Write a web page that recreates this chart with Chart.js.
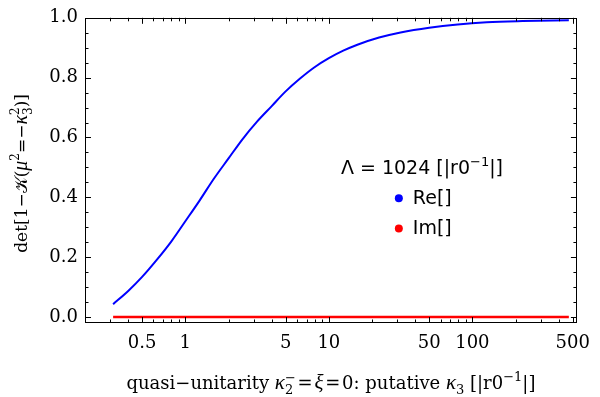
<!DOCTYPE html>
<html>
<head>
<meta charset="utf-8">
<script src="https://cdn.jsdelivr.net/npm/chart.js@4.4.0/dist/chart.umd.min.js"></script>
<style>
  html, body { margin: 0; padding: 0; background: #fff; }
  #wrap { width: 600px; height: 397px; }
</style>
</head>
<body>
<div id="wrap"><canvas id="myChart"></canvas></div>
<script>
// values
const kappa3 = [0.314, 0.4, 0.5, 0.63, 0.8, 1.0, 1.26, 1.58, 2.0, 2.5, 3.16, 4.0, 5.0, 6.3, 7.9, 10, 12.6, 15.8, 22.4, 31.6, 50, 79, 126, 224, 470];
const reValues = [0.043, 0.087, 0.134, 0.19, 0.253, 0.32, 0.39, 0.462, 0.53, 0.594, 0.653, 0.705, 0.754, 0.797, 0.834, 0.865, 0.89, 0.91, 0.934, 0.951, 0.967, 0.978, 0.985, 0.989, 0.992];
const imValues = [0, 0, 0, 0, 0, 0, 0, 0, 0, 0, 0, 0, 0, 0, 0, 0, 0, 0, 0, 0, 0, 0, 0, 0, 0];

const xTickLabels = [0.5, 1, 5, 10, 50, 100, 500];
const yTickLabels = [0, 0.2, 0.4, 0.6, 0.8, 1.0];
const seriesLabels = ["Re[]", "Im[]"];
const seriesColors = ["rgb(0, 0, 255)", "rgb(255, 0, 0)"];
const legendTitle = ["Λ = 1024 [|r0", "−1", "|]"];

// axis titles as runs: t = text, f = font kind, dy = shift, back = stack on previous run
const xTitle = [
  { t: "quasi−unitarity ", f: "n" },
  { t: "κ", f: "i" },
  { t: "2", f: "s", dy: 5 },
  { t: "−", f: "s", dy: -7, back: true },
  { t: "\u200a=\u200a", f: "n" },
  { t: "ξ", f: "i" },
  { t: "\u200a=\u200a", f: "n" },
  { t: "0: putative ", f: "n" },
  { t: "κ", f: "i" },
  { t: "3", f: "s", dy: 5 },
  { t: " [|r0", f: "n" },
  { t: "−1", f: "s", dy: -8 },
  { t: "|]", f: "n" },
];
const yTitle = [
  { t: "det[1−", f: "n" },
  { t: "𝒦", f: "n" },
  { t: "(", f: "n" },
  { t: "μ", f: "i" },
  { t: "2", f: "s", dy: -8 },
  { t: "=−", f: "n" },
  { t: "κ", f: "i" },
  { t: "3", f: "s", dy: 5 },
  { t: "2", f: "s", dy: -8, back: true },
  { t: ")]", f: "n" },
];
const xTitleFonts = {
  n: "18px 'DejaVu Serif'",
  i: "italic 21px 'Liberation Serif'",
  s: "13px 'DejaVu Serif'",
};
const yTitleFonts = {
  n: "17px 'DejaVu Serif'",
  i: "italic 20px 'Liberation Serif'",
  s: "12px 'DejaVu Serif'",
};

const toPoints = (ys) => kappa3.map((x, i) => ({ x: x, y: ys[i] }));

function drawRuns(ctx, runs, fonts, cx, by) {
  // measure first, then draw centred on cx
  const placed = [];
  let x = 0, prevX = 0, prevW = 0;
  runs.forEach((r) => {
    ctx.font = fonts[r.f];
    const w = ctx.measureText(r.t).width;
    let rx = x;
    if (r.back) {
      rx = prevX;
      x = Math.max(prevX + prevW, prevX + w);
    } else {
      x += w;
    }
    placed.push({ r: r, x: rx });
    prevX = rx; prevW = w;
  });
  const x0 = cx - x / 2;
  placed.forEach((p) => {
    ctx.font = fonts[p.r.f];
    ctx.fillText(p.r.t, x0 + p.x, by + (p.r.dy || 0));
  });
}

// frame + inward ticks on all four sides, legend and axis titles
const frameTicks = {
  id: "frameTicks",
  afterDatasetsDraw(chart) {
    const { ctx, chartArea: a, scales } = chart;
    const sx = scales.x, sy = scales.y;
    ctx.save();
    ctx.strokeStyle = "#000";
    ctx.lineWidth = 1;
    ctx.beginPath();
    const xMark = (v, len) => {
      const px = Math.round(sx.getPixelForValue(v)) + 0.5;
      ctx.moveTo(px, a.bottom); ctx.lineTo(px, a.bottom - len);
      ctx.moveTo(px, a.top); ctx.lineTo(px, a.top + len);
    };
    const yMark = (v, len) => {
      const py = Math.round(sy.getPixelForValue(v)) + 0.5;
      ctx.moveTo(a.left, py); ctx.lineTo(a.left + len, py);
      ctx.moveTo(a.right, py); ctx.lineTo(a.right - len, py);
    };
    for (let d = -1; d <= 2; d++) {
      for (let m = 1; m <= 9; m++) {
        const v = m * Math.pow(10, d);
        if (v <= sx.min * 1.01 || v >= sx.max) continue;
        const major = xTickLabels.some((t) => Math.abs(t - v) < 1e-9 * t + 1e-12);
        xMark(v, major ? 6 : 3.5);
      }
    }
    for (let i = 0; i <= 20; i++) {
      yMark(i * 0.05, i % 4 === 0 ? 6 : 3.5);
    }
    ctx.stroke();
    ctx.strokeRect(Math.round(a.left) + 0.5, Math.round(a.top) + 0.5,
      Math.round(a.right - a.left) - 1, Math.round(a.bottom - a.top) - 1);
    ctx.restore();
  },
  afterDraw(chart) {
    const { ctx, chartArea: a } = chart;
    const w = a.right - a.left, h = a.bottom - a.top;
    ctx.save();
    ctx.fillStyle = "#000";

    // axis titles
    ctx.textBaseline = "alphabetic";
    drawRuns(ctx, xTitle, xTitleFonts, (a.left + a.right) / 2, chart.height - 8);
    ctx.save();
    ctx.translate(27, (a.top + a.bottom) / 2 + 3);
    ctx.rotate(-Math.PI / 2);
    drawRuns(ctx, yTitle, yTitleFonts, 0, 0);
    ctx.restore();

    // legend inside the plot
    const big = "19px 'DejaVu Sans'", small = "13px 'DejaVu Sans'";
    ctx.font = big;
    const w0 = ctx.measureText(legendTitle[0]).width;
    const w2 = ctx.measureText(legendTitle[2]).width;
    ctx.font = small;
    const w1 = ctx.measureText(legendTitle[1]).width;
    const cx = a.left + 0.685 * w;
    const by = a.top + 0.513 * h;
    let x = cx - (w0 + w1 + w2) / 2;
    ctx.font = big;
    ctx.fillText(legendTitle[0], x, by);
    x += w0;
    ctx.font = small;
    ctx.fillText(legendTitle[1], x, by - 8);
    x += w1;
    ctx.font = big;
    ctx.fillText(legendTitle[2], x, by);
    const rows = [0.591, 0.69];
    chart.data.datasets.forEach((ds, i) => {
      const dy = a.top + rows[i] * h;
      const dx = a.left + 0.638 * w;
      ctx.fillStyle = ds.borderColor;
      ctx.beginPath();
      ctx.arc(dx, dy, 4, 0, Math.PI * 2);
      ctx.fill();
      ctx.fillStyle = "#000";
      ctx.font = big;
      ctx.textBaseline = "middle";
      ctx.fillText(ds.label, dx + 14, dy + 1);
    });
    ctx.restore();
  }
};

const serif = { family: "'DejaVu Serif'", size: 18 };

const myChart = new Chart(document.getElementById("myChart"), {
  type: "line",
  data: {
    datasets: [
      {
        label: seriesLabels[0],
        data: toPoints(reValues),
        borderColor: seriesColors[0],
        backgroundColor: seriesColors[0],
        borderWidth: 2,
        cubicInterpolationMode: "monotone",
        pointRadius: 0,
      },
      {
        label: seriesLabels[1],
        data: toPoints(imValues),
        borderColor: seriesColors[1],
        backgroundColor: seriesColors[1],
        borderWidth: 2.5,
        pointRadius: 0,
      },
    ],
  },
  options: {
    responsive: true,
    maintainAspectRatio: false,
    animation: false,
    layout: { padding: { top: 14, right: 15, left: 4, bottom: 4 } },
    plugins: {
      legend: { display: false },
      tooltip: { enabled: false },
    },
    scales: {
      x: {
        type: "logarithmic",
        min: 0.2,
        max: 535,
        afterBuildTicks: (s) => { s.ticks = xTickLabels.map((v) => ({ value: v })); },
        afterFit: (s) => { s.height = 70; },
        grid: { display: false, drawTicks: false },
        border: { display: false },
        ticks: {
          autoSkip: false,
          maxRotation: 0,
          padding: 10,
          color: "#000",
          font: serif,
          callback: (v) => String(v),
        },
      },
      y: {
        min: -0.02,
        max: 1.0,
        afterBuildTicks: (s) => { s.ticks = yTickLabels.map((v) => ({ value: v })); },
        afterFit: (s) => { s.width = 81; },
        grid: { display: false, drawTicks: false },
        border: { display: false },
        ticks: {
          padding: 7,
          color: "#000",
          font: serif,
          callback: (v) => v.toFixed(1),
        },
      },
    },
  },
  plugins: [frameTicks],
});
</script>
</body>
</html>
